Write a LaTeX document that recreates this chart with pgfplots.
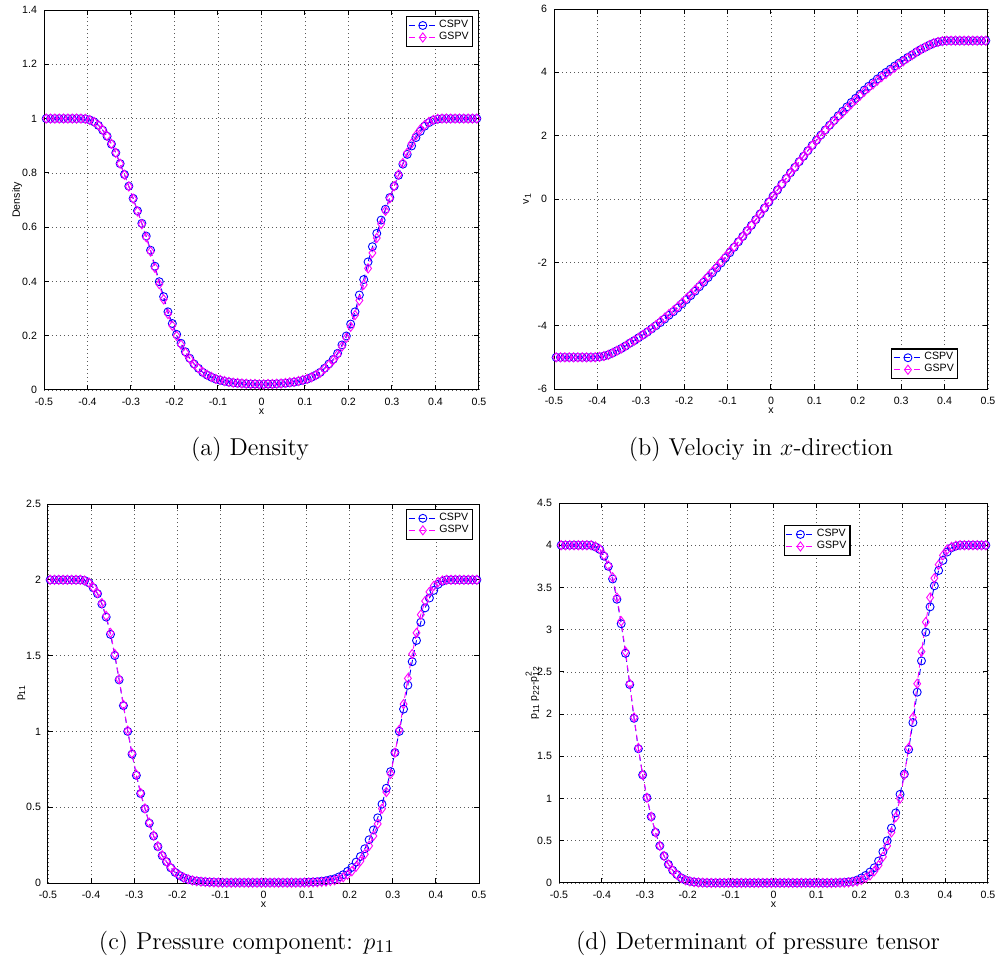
\documentclass[border=0pt]{standalone}
\usepackage{fontspec}
\usepackage{pgfplots}
\usepackage{pgfplotstable}
\pgfplotsset{compat=1.18}
\newfontfamily\helv{Liberation Sans}
\newcommand\tf{\helv\fontsize{5.3}{6}\selectfont}
\newcommand\lsub[1]{\raisebox{-1.1pt}{\fontsize{4.3}{5}\selectfont #1}}
\newcommand\lsup[1]{\raisebox{2.6pt}{\fontsize{4.3}{5}\selectfont #1}}
\definecolor{mblue}{RGB}{0,0,255}
\definecolor{mmag}{RGB}{255,0,255}

% x, density, velocity, p11, det -- CSPV (C) and GSPV (G)
\pgfplotstableread{
x      aC    aG    bC     bG     cC    cG    dC    dG
-0.495 1     1     -5     -5     2     2     4     4
-0.485 1     1     -5     -5     2     2     4     4
-0.475 1     1     -5     -5     2     2     4     4
-0.465 1     1     -5     -5     2     2     4     4
-0.455 1     1     -5     -5     2     2     4     4
-0.445 1     1     -5     -5     2     2     4     4
-0.435 1     1     -5     -5     2     2     4     4
-0.425 1     1     -5     -5     2     2     4     4
-0.415 1     1     -5     -5     1.995 1.995 3.98  3.985
-0.405 0.999 0.999 -4.997 -4.997 1.98  1.982 3.95  3.955
-0.395 0.995 0.995 -4.985 -4.985 1.947 1.95  3.87  3.88
-0.385 0.988 0.988 -4.96  -4.96  1.908 1.912 3.75  3.76
-0.375 0.975 0.976 -4.92  -4.92  1.84  1.846 3.60  3.62
-0.365 0.957 0.958 -4.86  -4.86  1.754 1.762 3.36  3.38
-0.355 0.935 0.936 -4.79  -4.79  1.64  1.65  3.07  3.10
-0.345 0.906 0.907 -4.72  -4.72  1.50  1.51  2.72  2.74
-0.335 0.874 0.874 -4.64  -4.64  1.34  1.345 2.35  2.36
-0.325 0.834 0.834 -4.55  -4.55  1.17  1.175 1.95  1.96
-0.315 0.794 0.793 -4.47  -4.47  1.00  1.005 1.59  1.60
-0.305 0.751 0.750 -4.38  -4.38  0.85  0.855 1.28  1.28
-0.295 0.706 0.705 -4.29  -4.29  0.71  0.715 1.01  1.01
-0.285 0.660 0.658 -4.20  -4.20  0.59  0.594 0.785 0.785
-0.275 0.614 0.611 -4.10  -4.09  0.49  0.492 0.60  0.60
-0.265 0.567 0.563 -4.00  -3.98  0.395 0.398 0.44  0.44
-0.255 0.515 0.510 -3.90  -3.86  0.31  0.313 0.32  0.32
-0.245 0.456 0.450 -3.79  -3.75  0.24  0.243 0.22  0.22
-0.235 0.399 0.390 -3.67  -3.63  0.18  0.183 0.15  0.148
-0.225 0.344 0.334 -3.56  -3.52  0.14  0.141 0.10  0.097
-0.215 0.288 0.280 -3.44  -3.40  0.10  0.102 0.06  0.058
-0.205 0.245 0.237 -3.31  -3.27  0.07  0.072 0.035 0.033
-0.195 0.205 0.199 -3.18  -3.14  0.05  0.052 0.02  0.019
-0.185 0.172 0.167 -3.05  -3.01  0.035 0.036 0.012 0.011
-0.175 0.141 0.138 -2.91  -2.87  0.024 0.025 0.007 0.006
-0.165 0.117 0.115 -2.77  -2.73  0.017 0.017 0.004 0.004
-0.155 0.096 0.095 -2.63  -2.59  0.013 0.012 0.003 0.002
-0.145 0.080 0.080 -2.48  -2.44  0.010 0.009 0.002 0.001
-0.135 0.065 0.066 -2.33  -2.29  0.008 0.007 0.002 0.001
-0.125 0.055 0.056 -2.18  -2.14  0.006 0.005 0.002 0.001
-0.115 0.047 0.048 -2.02  -1.98  0.005 0.004 0.002 0.001
-0.105 0.040 0.041 -1.86  -1.82  0.004 0.003 0.002 0.001
-0.095 0.036 0.037 -1.695 -1.655 0.003 0.002 0.002 0.001
-0.085 0.032 0.033 -1.525 -1.51  0.003 0.002 0.002 0.001
-0.075 0.029 0.030 -1.35  -1.345 0.003 0.002 0.002 0.001
-0.065 0.027 0.027 -1.18  -1.18  0.003 0.002 0.002 0.001
-0.055 0.025 0.026 -1.00  -1.00  0.003 0.002 0.002 0.001
-0.045 0.024 0.024 -0.83  -0.83  0.003 0.002 0.002 0.001
-0.035 0.023 0.023 -0.65  -0.65  0.003 0.002 0.002 0.001
-0.025 0.022 0.022 -0.47  -0.47  0.003 0.002 0.002 0.001
-0.015 0.022 0.022 -0.285 -0.285 0.003 0.002 0.002 0.001
-0.005 0.021 0.021 -0.095 -0.095 0.003 0.002 0.002 0.001
0.005  0.021 0.021 0.095  0.095  0.003 0.002 0.002 0.001
0.015  0.022 0.022 0.285  0.285  0.003 0.002 0.002 0.001
0.025  0.022 0.022 0.47   0.47   0.003 0.002 0.002 0.001
0.035  0.023 0.023 0.65   0.65   0.003 0.002 0.002 0.001
0.045  0.024 0.024 0.83   0.83   0.003 0.002 0.002 0.001
0.055  0.025 0.026 1.00   1.00   0.003 0.002 0.002 0.001
0.065  0.027 0.028 1.18   1.18   0.003 0.002 0.002 0.001
0.075  0.029 0.030 1.35   1.35   0.003 0.002 0.002 0.001
0.085  0.032 0.033 1.525  1.52   0.003 0.002 0.002 0.001
0.095  0.036 0.037 1.695  1.69   0.004 0.003 0.002 0.001
0.105  0.040 0.041 1.86   1.85   0.005 0.003 0.002 0.001
0.115  0.047 0.047 2.02   2.01   0.007 0.004 0.002 0.001
0.125  0.055 0.055 2.18   2.17   0.009 0.005 0.002 0.001
0.135  0.065 0.064 2.33   2.32   0.012 0.007 0.002 0.001
0.145  0.080 0.078 2.48   2.46   0.015 0.009 0.003 0.002
0.155  0.096 0.093 2.63   2.60   0.022 0.013 0.005 0.003
0.165  0.113 0.110 2.77   2.72   0.028 0.018 0.008 0.004
0.175  0.135 0.131 2.91   2.86   0.040 0.026 0.013 0.007
0.185  0.166 0.160 3.05   3.00   0.055 0.038 0.02  0.012
0.195  0.199 0.192 3.18   3.13   0.077 0.055 0.035 0.02
0.205  0.243 0.233 3.31   3.26   0.103 0.078 0.06  0.035
0.215  0.288 0.276 3.44   3.39   0.138 0.108 0.09  0.06
0.225  0.350 0.330 3.56   3.51   0.175 0.145 0.13  0.09
0.235  0.407 0.388 3.67   3.62   0.226 0.19  0.18  0.14
0.245  0.472 0.448 3.79   3.74   0.285 0.245 0.26  0.21
0.255  0.528 0.505 3.90   3.85   0.35  0.31  0.37  0.31
0.265  0.577 0.560 4.00   3.95   0.43  0.39  0.50  0.44
0.275  0.626 0.612 4.10   4.05   0.52  0.49  0.65  0.60
0.285  0.666 0.660 4.20   4.15   0.625 0.60  0.83  0.78
0.295  0.709 0.706 4.29   4.25   0.735 0.72  1.05  1.00
0.305  0.751 0.751 4.38   4.35   0.86  0.86  1.29  1.28
0.315  0.791 0.794 4.47   4.45   1.00  1.01  1.58  1.60
0.325  0.832 0.836 4.55   4.54   1.147 1.18  1.90  1.96
0.335  0.868 0.874 4.64   4.64   1.305 1.35  2.26  2.36
0.345  0.899 0.908 4.72   4.72   1.46  1.51  2.63  2.74
0.355  0.930 0.938 4.79   4.79   1.60  1.65  2.97  3.09
0.365  0.953 0.960 4.86   4.86   1.72  1.77  3.27  3.38
0.375  0.972 0.976 4.92   4.92   1.815 1.86  3.52  3.61
0.385  0.985 0.988 4.96   4.96   1.88  1.92  3.70  3.77
0.395  0.994 0.995 4.985  4.985  1.93  1.96  3.82  3.88
0.405  0.998 0.999 4.997  4.997  1.97  1.985 3.92  3.95
0.415  1     1     5      5      1.99  1.995 3.97  3.98
0.425  1     1     5      5      2     2     3.99  3.995
0.435  1     1     5      5      2     2     4     4
0.445  1     1     5      5      2     2     4     4
0.455  1     1     5      5      2     2     4     4
0.465  1     1     5      5      2     2     4     4
0.475  1     1     5      5      2     2     4     4
0.485  1     1     5      5      2     2     4     4
0.495  1     1     5      5      2     2     4     4
}\data

\pgfplotsset{
  matlab/.style={
    scale only axis,
    xmin=-0.5, xmax=0.5,
    xtick={-0.5,-0.4,-0.3,-0.2,-0.1,0,0.1,0.2,0.3,0.4,0.5},
    tick align=inside, major tick length=2.5pt,
    xtick pos=both, ytick pos=both,
    grid=major,
    major grid style={black!65, line width=0.35pt, dash pattern=on 0.4pt off 1.6pt},
    axis line style={line width=0.5pt},
    every tick/.style={black, line width=0.5pt},
    ticklabel style={font=\tf},
    xticklabel style={yshift=-0.6pt},
    /pgf/number format/assume math mode=true,
    label style={font=\tf},
    xlabel={x},
    xlabel style={at={(axis description cs:0.5,-0.058)}, anchor=center},
    ylabel style={at={(axis description cs:-0.062,0.5)}, anchor=center},
    legend style={font=\tf, draw=black, line width=0.6pt, fill=white,
      inner sep=0.8pt, row sep=-1.2pt, nodes={inner sep=1pt}},
    legend cell align=left,
    legend image code/.code={\draw[##1, mark repeat=2, mark phase=2]
      plot coordinates {(0pt,0pt) (7pt,0pt) (14pt,0pt)};},
  },
  cspv/.style={mblue, line width=0.45pt, dash pattern=on 3pt off 2pt,
    mark=o, mark size=2pt, mark options={solid}},
  gspv/.style={mmag, line width=0.45pt, dash pattern=on 3pt off 2pt,
    mark=diamond, mark size=2.3pt, mark options={solid}},
}

\begin{document}
\begin{tikzpicture}
\useasboundingbox (0,0) rectangle (499pt,-479.5pt);

\begin{axis}[matlab, at={(22pt,-5pt)}, anchor=north west,
  width=217.5pt, height=190pt, ymin=0, ymax=1.4,
  ytick={0,0.2,0.4,0.6,0.8,1,1.2,1.4}, ylabel={Density},
  legend style={at={(0.986,0.984)}, anchor=north east}]
\addplot[cspv] table[x=x, y=aC] {\data};
\addplot[gspv] table[x=x, y=aG] {\data};
\legend{CSPV,GSPV}
\end{axis}

\begin{axis}[matlab, at={(277pt,-4.5pt)}, anchor=north west,
  width=217pt, height=190pt, ymin=-6, ymax=6,
  ytick={-6,-4,-2,0,2,4,6}, ylabel={v\lsub{1}},
  legend style={at={(0.931,0.026)}, anchor=south east}]
\addplot[cspv] table[x=x, y=bC] {\data};
\addplot[gspv] table[x=x, y=bG] {\data};
\legend{CSPV,GSPV}
\end{axis}

\begin{axis}[matlab, at={(24pt,-252pt)}, anchor=north west,
  width=215.5pt, height=189.5pt, ymin=0, ymax=2.5,
  ytick={0,0.5,1,1.5,2,2.5}, ylabel={p\lsub{11}},
  legend style={at={(0.986,0.987)}, anchor=north east}]
\addplot[cspv] table[x=x, y=cC] {\data};
\addplot[gspv] table[x=x, y=cG] {\data};
\legend{CSPV,GSPV}
\end{axis}

\begin{axis}[matlab, at={(279.5pt,-251.5pt)}, anchor=north west,
  width=214.5pt, height=190pt, ymin=0, ymax=4.5,
  ytick={0,0.5,1,1.5,2,2.5,3,3.5,4,4.5},
  ylabel={p\lsub{11} p\lsub{22}-p\rlap{\lsup{2}}\lsub{12}},
  legend style={at={(0.524,0.942)}, anchor=north west}]
\addplot[cspv] table[x=x, y=dC] {\data};
\addplot[gspv] table[x=x, y=dG] {\data};
\legend{CSPV,GSPV}
\end{axis}

\begin{scope}[every node/.style={font=\fontsize{12.2}{14}\selectfont}]
\node at (125pt,-224.5pt) {(a) Density};
\node at (380.5pt,-224.5pt) {(b) Velociy in $x$-direction};
\node at (123.5pt,-471.5pt) {(c) Pressure component: $p_{11}$};
\node at (379pt,-471.5pt) {(d) Determinant of pressure tensor};
\end{scope}
\end{tikzpicture}
\end{document}
